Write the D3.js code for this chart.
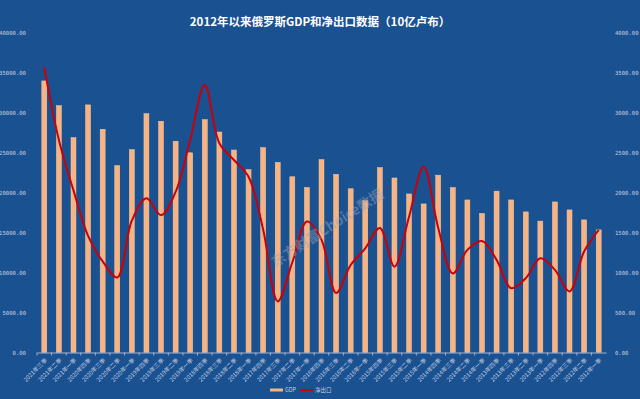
<!DOCTYPE html>
<html>
<head>
<meta charset="utf-8">
<script src="https://cdn.jsdelivr.net/npm/d3@7"></script>
<style>
  html, body { margin: 0; padding: 0; background: #1a5190; }
  svg { display: block; }
</style>
</head>
<body>
<svg class="chart"></svg>
<script>
const width = 640
const height = 399

// quarters, newest first (as in the source)
const years = [2021, 2020, 2019, 2018, 2017, 2016, 2015, 2014, 2013, 2012]
const quarterNames = ["四季", "三季", "二季", "一季"]
const quarters = []
years.forEach(y => {
  quarterNames.forEach((q, i) => {
    if (y === 2021 && i === 0) return   // 2021 only up to 三季
    quarters.push(y + "年" + q)
  })
})

const gdp = [34000, 30900, 26900, 31000, 27950, 23400, 25400, 29900, 28950, 26450,
  25000, 29150, 27600, 25350, 22900, 25650, 23800, 22000, 20650, 24150,
  22300, 20500, 19000, 23150, 21850, 19850, 18600, 22200, 20650, 19100,
  17400, 20200, 19100, 17600, 16450, 18850, 17850, 16600, 15350]

const netExport = [3570, 2660, 2030, 1460, 1140, 940, 1650, 1930, 1720, 2010,
  2660, 3350, 2620, 2410, 2200, 1540, 640, 1130, 1640, 1410,
  745, 1095, 1305, 1560, 1075, 1700, 2325, 1560, 990, 1285,
  1395, 1160, 805, 930, 1180, 1035, 765, 1265, 1535]

const leftTicks = [0, 5000, 10000, 15000, 20000, 25000, 30000, 35000, 40000]
const rightTicks = [0, 500, 1000, 1500, 2000, 2500, 3000, 3500, 4000]

const margin = { top: 33, right: 34, bottom: 47, left: 37 }
const plotBottom = height - margin.bottom + 0.5

const svg = d3.select(".chart")
  .attr("width", width)
  .attr("height", height)

svg.append("rect")
  .attr("width", width)
  .attr("height", height)
  .attr("fill", "#1a5190")

const x = d3.scaleBand()
  .domain(quarters)
  .range([margin.left, width - margin.right])
  .paddingInner(0.66)
  .paddingOuter(0.33)

const yLeft = d3.scaleLinear()
  .domain([0, 40000])
  .range([plotBottom, margin.top])

const yRight = d3.scaleLinear()
  .domain([0, 4000])
  .range([plotBottom, margin.top])

const tickColor = "#c3cfe2"
const fmt = d3.format(".2f")

// left axis
const leftAxis = svg.append("g")
  .attr("transform", `translate(${margin.left - 8},0)`)
  .call(d3.axisLeft(yLeft).tickValues(leftTicks).tickFormat(fmt).tickSize(0))
leftAxis.select(".domain").remove()

// right axis
const rightAxis = svg.append("g")
  .attr("transform", `translate(${width - margin.right + 6},0)`)
  .call(d3.axisRight(yRight).tickValues(rightTicks).tickFormat(fmt).tickSize(0))
rightAxis.select(".domain").remove()

svg.selectAll(".tick text")
  .attr("fill", tickColor)
  .style("font-family", "'DejaVu Sans Mono', monospace")
  .style("font-size", "5.6px")

// bars
svg.append("g")
  .selectAll("rect")
  .data(gdp)
  .join("rect")
    .attr("x", (d, i) => x(quarters[i]))
    .attr("y", d => yLeft(d))
    .attr("width", x.bandwidth())
    .attr("height", d => plotBottom - yLeft(d))
    .attr("fill", "#f8b382")
    .attr("stroke", "#fbcaa2")
    .attr("stroke-width", 0.5)

// x axis
const xAxis = svg.append("g")
  .attr("transform", `translate(0,${plotBottom})`)
  .call(d3.axisBottom(x).tickSize(3).tickSizeOuter(0))
xAxis.select(".domain").attr("stroke", "#9fb3d1")
xAxis.selectAll(".tick line")
  .attr("stroke", "#9fb3d1")
  .attr("transform", `translate(${-x.step() / 2},0)`)
xAxis.selectAll(".tick text")
  .attr("fill", tickColor)
  .style("font-family", "'Noto Sans CJK SC', sans-serif")
  .style("font-size", "5.8px")
  .attr("text-anchor", "end")
  .attr("dy", 0)
  .attr("dx", 0)
  .attr("transform", "translate(-1,4) rotate(-45)")

// net export line
const line = d3.line()
  .x((d, i) => x(quarters[i]) + x.bandwidth() / 2)
  .y(d => yRight(d))
  .curve(d3.curveCatmullRom.alpha(0.5))

svg.append("path")
  .datum(netExport)
  .attr("d", line)
  .attr("fill", "none")
  .attr("stroke", "#c8000a")
  .attr("stroke-width", 2)

// watermark
svg.append("text")
  .attr("transform", "translate(330,232) rotate(-33)")
  .attr("text-anchor", "middle")
  .attr("fill", "#9aa6b8")
  .attr("opacity", 0.45)
  .style("font-family", "'Noto Sans CJK SC', sans-serif")
  .style("font-size", "14px")
  .style("font-weight", "bold")
  .text("东方财富Choice数据")

// title
svg.append("text")
  .attr("x", width / 2)
  .attr("y", 26)
  .attr("text-anchor", "middle")
  .attr("fill", "#ffffff")
  .style("font-family", "'Noto Sans CJK SC', sans-serif")
  .style("font-size", "11.5px")
  .style("font-weight", "bold")
  .text("2012年以来俄罗斯GDP和净出口数据（10亿卢布）")

// legend
const legend = svg.append("g").attr("transform", "translate(270,390)")
legend.append("line")
  .attr("x1", 0).attr("x2", 13)
  .attr("stroke", "#f8b382").attr("stroke-width", 3)
legend.append("text")
  .attr("x", 15).attr("y", 2)
  .attr("fill", tickColor)
  .style("font-family", "'Noto Sans CJK SC', sans-serif")
  .style("font-size", "5.5px")
  .text("GDP")
legend.append("line")
  .attr("x1", 30).attr("x2", 43)
  .attr("stroke", "#c8000a").attr("stroke-width", 2)
legend.append("text")
  .attr("x", 45).attr("y", 2)
  .attr("fill", tickColor)
  .style("font-family", "'Noto Sans CJK SC', sans-serif")
  .style("font-size", "5.5px")
  .text("净出口")
</script>
</body>
</html>
